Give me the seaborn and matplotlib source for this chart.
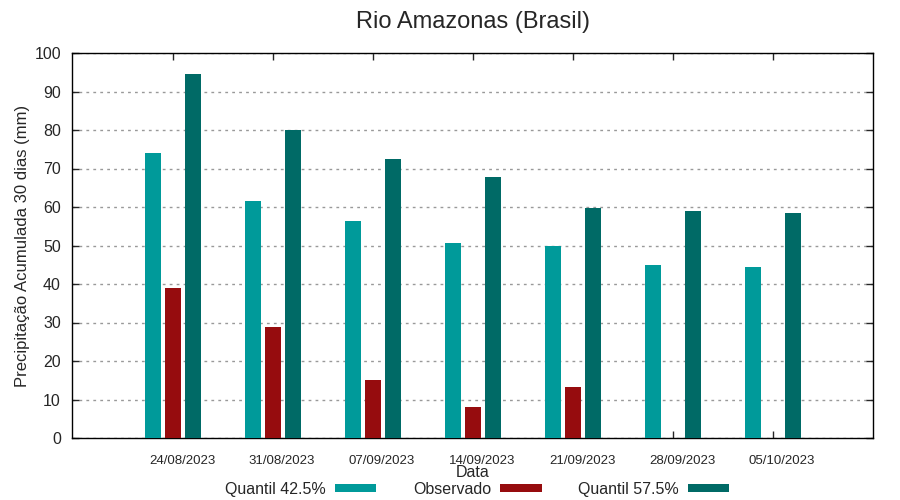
import numpy as np
import pandas as pd
import matplotlib
matplotlib.use("Agg")
import matplotlib.pyplot as plt
import matplotlib.transforms as mtransforms
import seaborn as sns
from matplotlib.patches import Patch

# Data
datas = ['24/08/2023', '31/08/2023', '07/09/2023', '14/09/2023',
         '21/09/2023', '28/09/2023', '05/10/2023']
quantil_425 = [74.0, 61.6, 56.4, 50.6, 49.9, 44.9, 44.4]
observado = [39.0, 28.8, 15.1, 8.1, 13.2, np.nan, np.nan]
quantil_575 = [94.5, 80.0, 72.5, 67.8, 59.7, 59.0, 58.4]

series = ['Quantil 42.5%', 'Observado', 'Quantil 57.5%']
cores = ['#009a9a', '#960c0e', '#006a66']

df = pd.DataFrame({
    'Data': datas * 3,
    'valor': quantil_425 + observado + quantil_575,
    'serie': [series[0]] * 7 + [series[1]] * 7 + [series[2]] * 7,
})

sns.set_style("white")
plt.rcParams['font.family'] = ['Liberation Sans', 'DejaVu Sans']

fig = plt.figure(figsize=(9, 5), dpi=100)
ax = fig.add_axes([0.08, 0.124, 0.89, 0.77])

sns.barplot(data=df, x='Data', y='valor', hue='serie', hue_order=series,
            palette=cores, width=0.6, gap=0.2, saturation=1, ax=ax,
            legend=False, linewidth=0, zorder=3)

ax.set_xlim(-1.01, 7.0)
ax.set_ylim(0, 100)
ax.set_yticks(range(0, 101, 10))
ax.yaxis.grid(True, linestyle=(0, (2, 3)), color='#999999', linewidth=1, zorder=0)
ax.set_axisbelow(True)

for s in ax.spines.values():
    s.set_color('black')
    s.set_linewidth(1)

ax.tick_params(axis='y', direction='in', length=5, width=1, labelsize=11.5,
               pad=8, right=True, left=True)
ax.tick_params(axis='x', direction='in', length=5, width=1, labelsize=9.5,
               pad=12, top=True, bottom=True)

# gnuplot puts the date labels a little to the right of the group centre
shift = mtransforms.ScaledTranslation(0.09, 0, fig.dpi_scale_trans)
for lbl in ax.get_xticklabels():
    lbl.set_transform(lbl.get_transform() + shift)

ax.set_title('Rio Amazonas (Brasil)', fontsize=17, pad=18)
ax.set_ylabel('Precipitação Acumulada 30 dias (mm)', fontsize=12, labelpad=3)
ax.set_xlabel('Data', fontsize=11.5, labelpad=-1)

handles = [Patch(facecolor=c, edgecolor='none') for c in cores]
ax.legend(handles, series, ncol=3, loc='upper center', markerfirst=False,
          bbox_to_anchor=(0.506, -0.097), frameon=False, fontsize=11.5,
          handlelength=2.6, handleheight=0.45, columnspacing=2.3,
          handletextpad=0.55, borderaxespad=0)

fig.savefig('out.png', dpi=100)
